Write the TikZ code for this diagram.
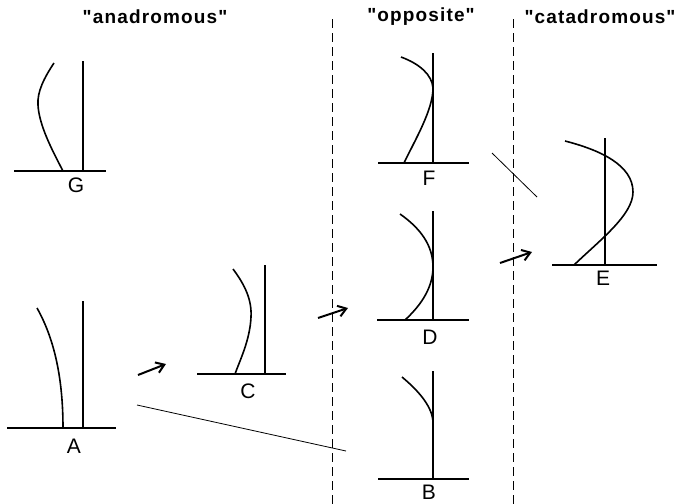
\documentclass[tikz,border=0pt]{standalone}
\usepackage{fontspec}
\setmainfont{Liberation Sans}[Ligatures=TeXOff]
\usetikzlibrary{arrows.meta}
\begin{document}
\begin{tikzpicture}[x=1pt,y=-1pt,
  title/.style={font=\fontsize{19}{22}\selectfont\bfseries\addfontfeature{LetterSpace=6}, inner sep=0pt},
  lbl/.style={font=\fontsize{21}{24}\selectfont, inner sep=0pt},
  base/.style={line width=2pt},
  stem/.style={line width=1.8pt},
  frond/.style={line width=1.6pt},
  thin/.style={line width=0.8pt},
  divider/.style={line width=0.8pt, dash pattern=on 9pt off 5pt},
  move/.style={line width=2pt, -{Straight Barb[length=8pt,width=11pt]}}]
\useasboundingbox (0,0) rectangle (681,504);
% titles
\node[title] (tA) at (155,17) {"anadromous"};
\node[title] (tO) at (421,17) {"opposite"};
\node[title] (tC) at (600,17) {"catadromous"};
% dividers
\coordinate (d1t) at (332,19); \coordinate (d1b) at (332,504);
\coordinate (d2t) at (513,19); \coordinate (d2b) at (513,504);
\draw[divider] (d1t) -- (d1b);
\draw[divider] (d2t) -- (d2b);
% G
\draw[base] (14,171) -- (106,171);
\draw[stem] (83,61) -- (83,171);
\draw[frond] (54,63) .. controls (44,78) and (37,92) .. (38,105) .. controls (39,125) and (52,150) .. (63,171);
\node[lbl] (G) at (76,185) {G};
% A
\draw[base] (7,428) -- (116,428);
\draw[stem] (83,301) -- (83,428);
\draw[frond] (37,308) .. controls (55,340) and (63,380) .. (63,428);
\node[lbl] (A) at (74,446) {A};
% C
\draw[base] (197,374) -- (286,374);
\draw[stem] (265,265) -- (265,374);
\draw[frond] (233,269) .. controls (245,285) and (252,300) .. (251,317) .. controls (250,340) and (240,360) .. (235,374);
\node[lbl] (C) at (248,391) {C};
% F
\draw[base] (378,163) -- (469,163);
\draw[stem] (433,53) -- (433,163);
\draw[frond] (401,57) .. controls (420,64) and (432,75) .. (433,88) .. controls (433,110) and (415,140) .. (404,163);
\node[lbl] (F) at (429,178) {F};
% D
\draw[base] (377,320) -- (469,320);
\draw[stem] (433,211) -- (433,320);
\draw[frond] (400,214) .. controls (420,228) and (433,245) .. (433,267) .. controls (433,290) and (418,308) .. (405,320);
\node[lbl] (D) at (430,337) {D};
% B
\draw[base] (378,479) -- (469,479);
\draw[stem] (433,371) -- (433,479);
\draw[frond] (402,377) .. controls (420,392) and (433,408) .. (433,423);
\node[lbl] (B) at (429,492) {B};
% E
\draw[base] (552,265) -- (657,265);
\draw[stem] (605,138) -- (605,265);
\draw[frond] (565,141) .. controls (600,150) and (633,165) .. (633,192) .. controls (633,215) and (600,240) .. (574,265);
\node[lbl] (E) at (603,278) {E};
% arrows
\coordinate (a1s) at (138,375); \coordinate (a1e) at (166,364);
\coordinate (a2s) at (318,318); \coordinate (a2e) at (348,308);
\coordinate (a3s) at (500,263); \coordinate (a3e) at (532,252);
\draw[move] (a1s) -- (a1e);
\draw[move] (a2s) -- (a2e);
\draw[move] (a3s) -- (a3e);
% thin lines
\coordinate (l1s) at (137,405); \coordinate (l1e) at (346,451);
\coordinate (l2s) at (492,153); \coordinate (l2e) at (537,197);
\draw[thin] (l1s) -- (l1e);
\draw[thin] (l2s) -- (l2e);
\end{tikzpicture}
\end{document}
